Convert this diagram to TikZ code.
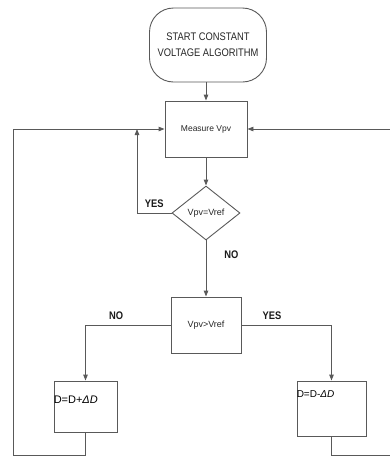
\documentclass[tikz,border=0pt]{standalone}
\usepackage{fontspec}
\setmainfont{Liberation Sans}
\newfontfamily\narrowfont[FakeStretch=0.85]{Liberation Sans}
\usetikzlibrary{shapes.geometric,arrows.meta,positioning}

\tikzset{
    flow/.style={draw=black!65, line width=0.9pt, -{Triangle[length=6pt,width=4.5pt]}},
    box/.style={draw=black!65, line width=0.9pt, rectangle, inner sep=0pt, text=black!85},
    answer/.style={font=\narrowfont\bfseries\fontsize{11}{13}\selectfont, text=black!90, inner sep=2pt}
}

\begin{document}
\begin{tikzpicture}[x=1pt,y=-1pt]

    % Page size (pixels of the drawing)
    \useasboundingbox (0,0) rectangle (390,456);

    % Blocks
    \node[box, rounded corners=24pt, minimum width=117pt, minimum height=74pt, align=center,
          font=\narrowfont\fontsize{11}{16}\selectfont] (start) at (208,45) {START CONSTANT\\VOLTAGE ALGORITHM};
    \node[box, minimum width=82pt, minimum height=56pt, font=\fontsize{8.5}{10}\selectfont] (measure) at (206,129) {Measure Vpv};
    \node[box, diamond, aspect=1.26, minimum width=68pt, minimum height=54pt, font=\fontsize{9}{10}\selectfont] (check) at (206,213) {Vpv=Vref};
    \node[box, minimum width=70pt, minimum height=56pt, font=\fontsize{9}{10}\selectfont] (compare) at (206,325) {Vpv>Vref};
    \node[box, minimum width=63pt, minimum height=51pt] (incr) at (85.5,406.5) {};
    \node[box, minimum width=69pt, minimum height=55pt] (decr) at (331.5,408.5) {};

    % Texts in the duty cycle boxes
    \node[anchor=west, inner sep=0pt, font=\fontsize{11}{13}\selectfont] (incrtext) at ([yshift=-19pt]incr.north west) {D=D+\textit{ΔD}};
    \node[anchor=west, inner sep=0pt, font=\fontsize{10}{12}\selectfont] (decrtext) at ([yshift=-14pt]decr.north west) {D=D-\textit{ΔD}};

    % Turning points of the loops
    \coordinate (yesturn) at (137,129);
    \coordinate (lcorner) at (13,455);
    \coordinate (rcorner) at (392,455);

    % Main flow
    \draw[flow] (start.south -| measure.north) -- (measure);
    \draw[flow] (measure) -- (check);
    \draw[flow] (check) -- node[pos=0.26, answer, anchor=west, xshift=16pt] {NO} (compare);
    \draw[flow] (check.west) -| node[pos=0.25, answer, above, yshift=3pt] {YES} (yesturn);
    \draw[flow] (compare.west) -| node[pos=0.32, answer, above, yshift=3pt] {NO} (incr.north);
    \draw[flow] (compare.east) -| node[pos=0.17, answer, above, yshift=3pt] {YES} (decr.north);

    % Feedback loops
    \draw[flow] (incr.south) |- (lcorner) |- (measure.west);
    \draw[flow] (decr.south) |- (rcorner) |- (measure.east);

\end{tikzpicture}
\end{document}
